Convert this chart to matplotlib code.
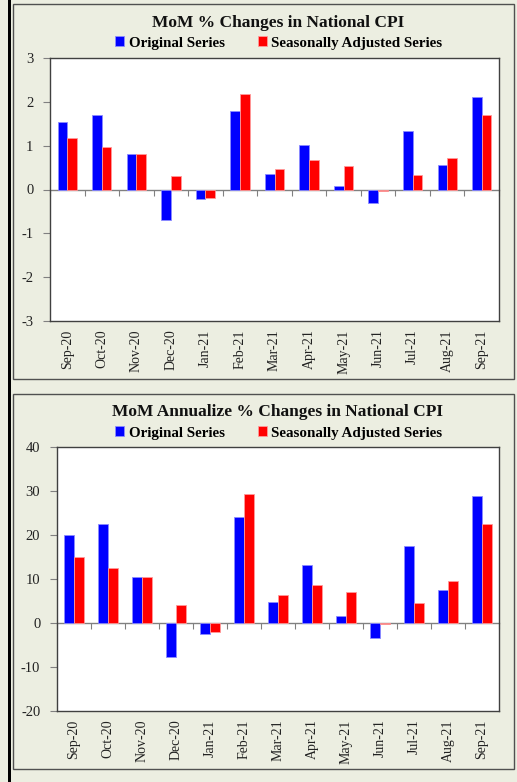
import numpy as np
import matplotlib
matplotlib.use("Agg")
import matplotlib.pyplot as plt
from matplotlib.patches import Rectangle

plt.rcParams['font.family'] = ['Liberation Serif', 'DejaVu Serif']

months = ["Sep-20", "Oct-20", "Nov-20", "Dec-20", "Jan-21", "Feb-21", "Mar-21",
          "Apr-21", "May-21", "Jun-21", "Jul-21", "Aug-21", "Sep-21"]

mom_original = [1.54, 1.70, 0.81, -0.70, -0.22, 1.80, 0.36, 1.02, 0.09, -0.31, 1.33, 0.57, 2.12]
mom_sa = [1.17, 0.97, 0.81, 0.31, -0.19, 2.19, 0.47, 0.68, 0.54, -0.04, 0.34, 0.73, 1.69]

ann_original = [20.0, 22.5, 10.5, -7.7, -2.4, 24.1, 4.7, 13.2, 1.5, -3.3, 17.5, 7.4, 28.9]
ann_sa = [15.0, 12.4, 10.5, 4.2, -2.0, 29.3, 6.3, 8.7, 7.1, -0.15, 4.5, 9.5, 22.5]

series_names = ["Original Series", "Seasonally Adjusted Series"]
titles = ["MoM % Changes in National CPI", "MoM Annualize % Changes in National CPI"]

BG = '#ECEEE1'
W, H = 517, 782

fig = plt.figure(figsize=(W / 100, H / 100), dpi=100, facecolor=BG)

def fx(px):
    return px / W

def fy(py):
    return 1 - py / H

# left black border
fig.patches.append(Rectangle((fx(7.5), 0), fx(3), 1, transform=fig.transFigure,
                             facecolor='black', edgecolor='none'))

# panel frames
for top, bot in [(4, 379), (394, 769)]:
    fig.patches.append(Rectangle((fx(13), fy(bot)), fx(514 - 13), (bot - top) / H,
                                 transform=fig.transFigure, fill=False,
                                 edgecolor='#505050', lw=1.0))

def draw(ax_rect, orig, sa, ylim, yticks, title, title_y, leg_y):
    ax = fig.add_axes(ax_rect)
    ax.set_facecolor('white')
    x = np.arange(len(months))
    w = 0.28
    b1 = ax.bar(x - w / 2, orig, w, color='#0000FF', edgecolor='#8C8CFF', lw=0.6,
                label=series_names[0], zorder=2)
    b2 = ax.bar(x + w / 2, sa, w, color='#FF0000', edgecolor='#FF9A9A', lw=0.6,
                label=series_names[1], zorder=2)
    ax.set_xlim(-0.5, len(months) - 0.5)
    ax.set_ylim(*ylim)
    ax.set_yticks(yticks)
    ax.set_yticklabels([str(t) for t in yticks])
    ax.set_xticks(x)
    ax.set_xticklabels(months, rotation=90, fontsize=10, color='#222222')
    ax.tick_params(axis='x', length=0, pad=6)
    ax.tick_params(axis='y', length=5, direction='out', color='#808080',
                   labelsize=10.5, labelcolor='#222222', pad=7)
    for s in ax.spines.values():
        s.set_color('#404040')
        s.set_linewidth(1.0)
    # zero axis with category boundary ticks
    sec = ax.secondary_xaxis(0, transform=ax.transData)
    sec.set_xticks(np.arange(-0.5, len(months), 1.0))
    sec.tick_params(direction='out', length=4, color='#808080', labelbottom=False)
    sec.spines['bottom'].set_color('#808080')
    sec.spines['bottom'].set_linewidth(1.0)
    fig.text(fx(278), fy(title_y), title, ha='center', va='center',
             fontsize=12.5, fontweight='bold', color='#111111')
    fig.legend(handles=[b1, b2], labels=series_names, loc='center',
               bbox_to_anchor=(fx(279), fy(leg_y)), ncol=2, frameon=False,
               handlelength=0.6, handleheight=0.6, handletextpad=0.3,
               columnspacing=2.2, borderpad=0,
               prop={'weight': 'bold', 'size': 10.8})
    return ax

draw([fx(50), fy(321), fx(449), 263 / H], mom_original, mom_sa, (-3, 3),
     list(range(-3, 4)), titles[0], 23, 43)
draw([fx(57), fy(711), fx(442), 264 / H], ann_original, ann_sa, (-20, 40),
     list(range(-20, 41, 10)), titles[1], 412, 433)

fig.savefig("out.png", dpi=100, facecolor=BG)
